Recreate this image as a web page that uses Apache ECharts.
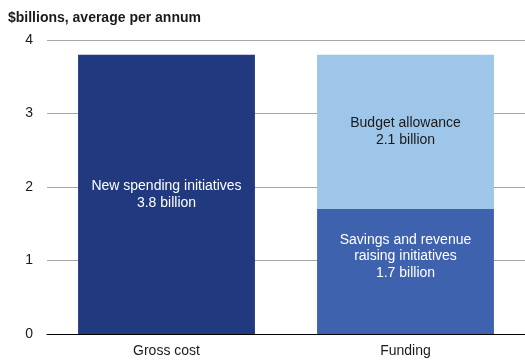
<!DOCTYPE html>
<html><head><meta charset="utf-8">
<script src="https://cdn.jsdelivr.net/npm/echarts@6/dist/echarts.min.js"></script>
<style>html,body{margin:0;padding:0;background:#fff}#c{width:525px;height:360px}</style>
</head><body><div id="c"></div>
<script>
var categories = ['Gross cost', 'Funding'];
var grossValues = [3.8, 0];
var savingsValues = [0, 1.7];
var allowanceValues = [0, 2.1];
var yTicks = [0, 1, 2, 3, 4];
var grossLabel = 'New spending initiatives\n3.8 billion';
var savingsLabel = 'Savings and revenue\nraising initiatives\n1.7 billion';
var allowanceLabel = 'Budget allowance\n2.1 billion';

var font = 'Liberation Sans, Arial, sans-serif';
var chart = echarts.init(document.getElementById('c'));
function toData(arr){ return arr.map(function(v){ return v === 0 ? '-' : v; }); }
chart.setOption({
  animation: false,
  textStyle: {fontFamily: font},
  title: {text: '$billions, average per annum', left: 3, top: 6,
    textStyle: {fontFamily: font, fontSize: 14, fontWeight: 'bold', color: '#1a1a1a'}},
  grid: {left: 47, right: 0, top: 40, bottom: 26},
  xAxis: {type: 'category', data: categories,
    axisLine: {lineStyle: {color: '#000', width: 1}}, axisTick: {show: false},
    axisLabel: {color: '#1a1a1a', fontSize: 14, margin: 10, fontFamily: font}},
  yAxis: {type: 'value', min: yTicks[0], max: yTicks[yTicks.length-1], interval: 1,
    axisLine: {show: false}, axisTick: {show: false},
    axisLabel: {color: '#1a1a1a', fontSize: 14, margin: 14, fontFamily: font},
    splitLine: {lineStyle: {color: '#a6a6a6', width: 1}}},
  series: [
    {type: 'bar', stack: 'a', data: toData(grossValues), barWidth: '74%',
     itemStyle: {color: '#21397F'},
     label: {show: true, position: 'inside', formatter: grossLabel, color: '#fff', fontSize: 14, lineHeight: 17, fontFamily: font}},
    {type: 'bar', stack: 'a', data: toData(savingsValues), barWidth: '74%',
     itemStyle: {color: '#3E62AD'},
     label: {show: true, position: 'inside', offset: [0, -15], formatter: savingsLabel, color: '#fff', fontSize: 14, lineHeight: 16.5, fontFamily: font}},
    {type: 'bar', stack: 'a', data: toData(allowanceValues), barWidth: '74%',
     itemStyle: {color: '#9EC6E9'},
     label: {show: true, position: 'inside', formatter: allowanceLabel, color: '#1a1a1a', fontSize: 14, lineHeight: 17, fontFamily: font}}
  ]
});
</script></body></html>
